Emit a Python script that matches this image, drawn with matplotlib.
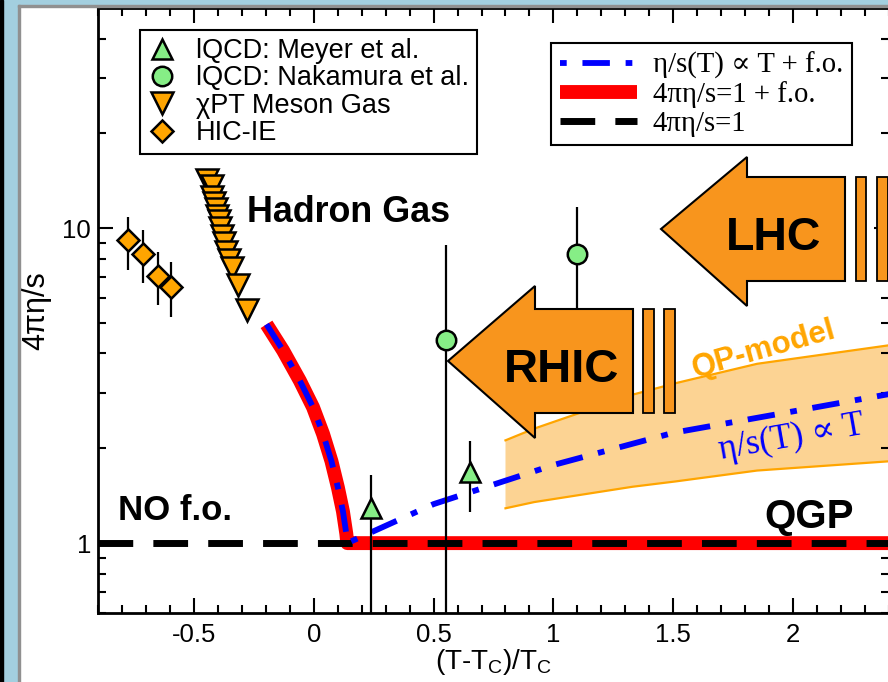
import matplotlib
matplotlib.use('Agg')
import matplotlib.pyplot as plt
from matplotlib.lines import Line2D
from matplotlib.patches import Polygon, Rectangle
from matplotlib.ticker import LogLocator, MultipleLocator, NullFormatter, FuncFormatter

plt.rcParams['font.family'] = ['Liberation Sans', 'DejaVu Sans']
plt.rcParams['mathtext.fontset'] = 'custom'
plt.rcParams['mathtext.rm'] = 'Liberation Sans'
plt.rcParams['axes.unicode_minus'] = False

# ---- data ----
# lattice QCD, Meyer et al.
meyer_x = [0.24, 0.65]
meyer_y = [1.29, 1.68]
meyer_lo = [0.40, 1.26]
meyer_hi = [1.65, 2.11]

# lattice QCD, Nakamura et al.
naka_x = [0.55, 1.10]
naka_y = [4.43, 8.25]
naka_lo = [0.30, 4.85]
naka_hi = [8.83, 11.7]

# chiral perturbation theory, meson gas
chpt_x = [-0.445, -0.426, -0.424, -0.415, -0.408, -0.403, -0.395, -0.389,
          -0.382, -0.374, -0.364, -0.353, -0.343, -0.315, -0.280]
chpt_y = [14.25, 13.57, 12.53, 12.01, 11.49, 10.94, 10.55, 9.98,
          9.43, 8.94, 8.39, 7.91, 7.47, 6.62, 5.51]

# HIC-IE
hic_x = [-0.774, -0.711, -0.649, -0.596]
hic_y = [9.16, 8.26, 7.03, 6.50]
hic_lo = [7.35, 6.70, 5.69, 5.22]
hic_hi = [10.87, 9.85, 8.41, 7.81]

# 4 pi eta/s = 1 + freeze-out (hadronic branch, then flat)
red_x = [-0.197, -0.128, -0.058, -0.003, 0.039, 0.074, 0.101, 0.122, 0.136, 0.14, 2.45]
red_y = [4.95, 4.09, 3.28, 2.70, 2.22, 1.82, 1.50, 1.26, 1.07, 1.0, 1.0]

# eta/s(T) ~ T + freeze-out
blue_x = [-0.197, -0.128, -0.058, -0.003, 0.039, 0.074, 0.101, 0.122, 0.136, 0.14,
          0.5, 1.0, 1.5, 2.0, 2.45]
blue_y = [4.95, 4.09, 3.28, 2.70, 2.22, 1.82, 1.50, 1.26, 1.07, 1.0,
          1.33, 1.77, 2.24, 2.62, 3.02]

# 4 pi eta/s = 1
kss_x = [-0.9, 2.45]
kss_y = [1.0, 1.0]

# QP-model band
qp_x = [0.80, 0.92, 1.33, 1.51, 1.85, 2.45]
qp_lo = [1.29, 1.35, 1.51, 1.57, 1.70, 1.83]
qp_hi = [2.12, 2.31, 2.96, 3.22, 3.71, 4.30]

W, H = 888, 682


def px(x, y):
    return (x / W, 1 - y / H)


fig = plt.figure(figsize=(W / 100, H / 100), dpi=100)
ax = fig.add_axes([98 / W, 1 - 613 / H, (889 - 98) / W, (613 - 8) / H])

# light blue window frame
frame_c = '#a3cfdf'
fig.patches.append(Rectangle((0, 0), 18 / W, 1, transform=fig.transFigure, color=frame_c, zorder=0))
fig.patches.append(Rectangle((0, 1 - 5 / H), 1, 5 / H, transform=fig.transFigure, color=frame_c, zorder=0))
fig.patches.append(Rectangle((0, 0), 3 / W, 1, transform=fig.transFigure, color='k', zorder=0))
fig.patches.append(Rectangle((18 / W, 0), 1.5 / W, 1 - 5 / H, transform=fig.transFigure, color='#909090', zorder=0))
fig.patches.append(Rectangle((18 / W, 1 - 6.5 / H), 1, 1.5 / H, transform=fig.transFigure, color='#909090', zorder=0))

orange = '#ffa500'
arrow_c = '#f8951d'
green = '#86ee86'
dashdot = (4.7, 2.7, 1.15, 2.7)

# QP band
ax.fill_between(qp_x, qp_lo, qp_hi, facecolor='#fcd393', edgecolor='none', zorder=1)
ax.plot(qp_x, qp_lo, color=orange, lw=1.6, zorder=1.5)
ax.plot(qp_x, qp_hi, color=orange, lw=1.6, zorder=1.5)

# curves
l_red, = ax.plot(red_x, red_y, color='#ff0000', lw=10, solid_capstyle='butt', zorder=2)
l_kss, = ax.plot(kss_x, kss_y, color='k', lw=5, linestyle=(0, (5, 2.9)), zorder=2.5)
ax.plot(blue_x, blue_y, color='#0000ff', lw=4.2, linestyle=(0, dashdot), zorder=3)

# data points
ms_kw = dict(mec='k', mew=1.8, ecolor='k', elinewidth=1.6, capsize=0, ls='none', zorder=4)
ax.errorbar(hic_x, hic_y, yerr=[[y - l for y, l in zip(hic_y, hic_lo)], [h - y for y, h in zip(hic_y, hic_hi)]],
            marker='D', ms=11.5, mfc=orange, **ms_kw)
ax.plot(chpt_x, chpt_y, ls='none', marker='v', ms=16, mfc=orange, mec='k', mew=1.8, zorder=4)
ax.errorbar(meyer_x, meyer_y, yerr=[[y - l for y, l in zip(meyer_y, meyer_lo)], [h - y for y, h in zip(meyer_y, meyer_hi)]],
            marker='^', ms=14, mfc=green, **ms_kw)
ax.errorbar(naka_x, naka_y, yerr=[[y - l for y, l in zip(naka_y, naka_lo)], [h - y for y, h in zip(naka_y, naka_hi)]],
            marker='o', ms=14, mfc=green, **ms_kw)

# RHIC / LHC arrows
rhic = [(448, 361), (535, 286), (535, 309), (633, 309), (633, 413), (535, 413), (535, 438)]
lhc = [(661, 229), (747, 157), (747, 177), (845, 177), (845, 281), (747, 281), (747, 306)]
for poly in (rhic, lhc):
    ax.add_patch(Polygon([px(*p) for p in poly], closed=True, transform=fig.transFigure,
                         fc=arrow_c, ec='k', lw=1.5, zorder=5))
for x0, x1, y0, y1 in [(643, 654, 309, 413), (664, 675, 309, 413),
                       (856, 866, 177, 281), (877, 888, 177, 281)]:
    ax.add_patch(Rectangle(px(x0, y1), (x1 - x0) / W, (y1 - y0) / H, transform=fig.transFigure,
                           fc=arrow_c, ec='k', lw=1.3, zorder=5))

bold = dict(weight='bold', transform=fig.transFigure, ha='center', va='baseline', zorder=6)
ax.text(*px(562, 382), 'RHIC', fontsize=34, **bold)
ax.text(*px(774, 250), 'LHC', fontsize=33.5, **bold)
ax.text(*px(349, 222), 'Hadron Gas', fontsize=25.8, **bold)
ax.text(*px(175, 520), 'NO f.o.', fontsize=25, **bold)
ax.text(*px(809, 528), 'QGP', fontsize=29, **bold)
ax.text(*px(764, 350), 'QP-model', fontsize=22.5, color=orange, weight='bold', rotation=15.7,
        rotation_mode='anchor', ha='center', va='center', transform=fig.transFigure, zorder=6)
ax.text(*px(792, 438), 'η/s(T) ∝ T', fontsize=25, color='#0000ff', rotation=10,
        family=['Liberation Serif', 'DejaVu Serif'],
        rotation_mode='anchor', ha='center', va='center', transform=fig.transFigure, zorder=6)

# axes
ax.set_yscale('log')
ax.set_xlim(-0.9, 2.4)
ax.set_ylim(0.6, 50)
ax.xaxis.set_major_locator(MultipleLocator(0.5))
ax.xaxis.set_minor_locator(MultipleLocator(0.1))
ax.xaxis.set_major_formatter(FuncFormatter(lambda v, p: '0' if abs(v) < 1e-9 else f'{v:g}'))
ax.yaxis.set_major_locator(LogLocator(base=10))
ax.yaxis.set_minor_locator(LogLocator(base=10, subs=range(2, 10)))
ax.yaxis.set_major_formatter(FuncFormatter(lambda v, p: f'{v:g}'))
ax.yaxis.set_minor_formatter(NullFormatter())
ax.tick_params(which='both', direction='in', top=True, right=True, width=1.5, labelsize=18.5)
ax.tick_params(which='major', length=11)
ax.tick_params(which='minor', length=6)
ax.tick_params(axis='x', pad=7)
ax.tick_params(axis='y', pad=5)
for s in ax.spines.values():
    s.set_linewidth(2)

ax.set_xlabel(r'(T-T$_\mathrm{C}$)/T$_\mathrm{C}$', fontsize=20, labelpad=0)
ax.set_ylabel('4πη/s', fontsize=22, labelpad=8)

# legends
hdl1 = [Line2D([], [], ls='none', marker='^', ms=14, mfc=green, mec='k', mew=1.8),
        Line2D([], [], ls='none', marker='o', ms=14, mfc=green, mec='k', mew=1.8),
        Line2D([], [], ls='none', marker='v', ms=16, mfc=orange, mec='k', mew=1.8),
        Line2D([], [], ls='none', marker='D', ms=11.5, mfc=orange, mec='k', mew=1.8)]
lab1 = ['lQCD: Meyer et al.', 'lQCD: Nakamura et al.', 'χPT Meson Gas', 'HIC-IE']
leg1 = ax.legend(hdl1, lab1, loc='upper left', bbox_to_anchor=px(140, 30), bbox_transform=fig.transFigure,
                 fancybox=False, edgecolor='k', framealpha=1, fontsize=19.5, handlelength=1.0,
                 handletextpad=0.76, borderpad=0.3, labelspacing=0.05, borderaxespad=0)
leg1.get_frame().set_linewidth(1.5)
leg1.set_zorder(7)
ax.add_artist(leg1)

# legend handle for the dash-dot line starts on the dot, as in the original
h_blue = Line2D([], [], color='#0000ff', lw=4.2, linestyle=(dashdot[0] + dashdot[1], dashdot))
leg2 = ax.legend([h_blue, l_red, l_kss], ['η/s(T) ∝ T + f.o.', '4πη/s=1 + f.o.', '4πη/s=1'],
                 loc='upper left', bbox_to_anchor=px(551, 43), bbox_transform=fig.transFigure,
                 fancybox=False, edgecolor='k', framealpha=1,
                 prop={'family': ['Liberation Serif', 'DejaVu Serif'], 'size': 20.7},
                 handlelength=2.68, handletextpad=0.56, borderpad=0.3, labelspacing=0.08, borderaxespad=0)
leg2.get_frame().set_linewidth(1.5)
leg2.set_zorder(7)

fig.savefig('out.png', dpi=100)
